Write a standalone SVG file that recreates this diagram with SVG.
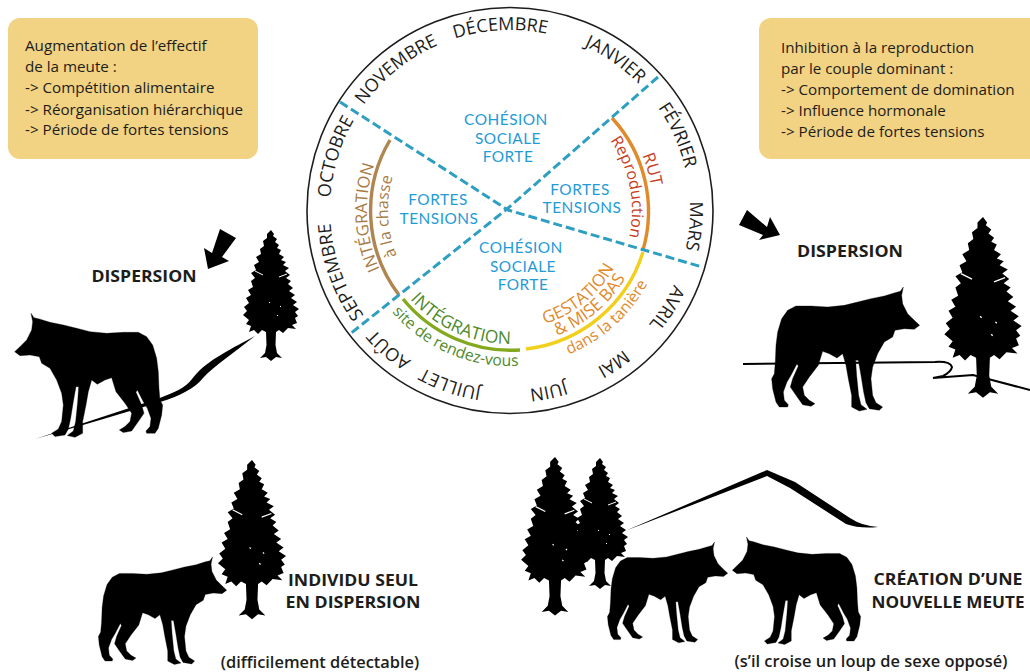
<svg xmlns="http://www.w3.org/2000/svg" width="1030" height="672" viewBox="0 0 1030 672">
<style>
text{font-family:"Open Sans","Noto Sans","Liberation Sans",sans-serif}
.box{fill:#f2d283}
.bt{font-size:15.2px;fill:#1d1d1b}
.m{font-size:18px;fill:#1d1d1b;text-anchor:middle}
.b{font-family:Lato,"Open Sans",sans-serif;font-size:15.4px;letter-spacing:.5px;fill:#1f9bd7;text-anchor:middle}
.lab{font-size:16.8px;font-weight:700;fill:#1d1d1b;text-anchor:middle}
.par{font-size:16.4px;font-weight:600;fill:#1d1d1b;text-anchor:middle}
.dash{fill:none;stroke:#2e9fc1;stroke-width:3;stroke-dasharray:9 4}
.arc{fill:none;stroke-width:3.4}
.cv{text-anchor:middle}
.fleck{fill:none;stroke:#fff;stroke-width:1}
</style>
<defs>
<path id="cw180" d="M510,390 A180,180 0 1 1 510,30 A180,180 0 1 1 510,390"/>
<path id="cw143" d="M510,353 A143,143 0 1 1 510,67 A143,143 0 1 1 510,353"/>
<path id="cw122" d="M510,332 A122,122 0 1 1 510,88 A122,122 0 1 1 510,332"/>
<path id="ccw119" d="M510,91 A119,119 0 1 0 510,329 A119,119 0 1 0 510,91"/>
<path id="ccw134" d="M510,76 A134,134 0 1 0 510,344 A134,134 0 1 0 510,76"/>
<path id="ccw156" d="M510,54 A156,156 0 1 0 510,366 A156,156 0 1 0 510,54"/>
<path id="wolf" stroke="#000" stroke-width="1" stroke-linejoin="round" d="M93,340 L102,353 L118,357 L150,367 L190,375 L230,385 L270,395 L320,400 L370,397 L415,397 L440,410 L458,435 L470,475 L475,515 L477,565 L480,600 L488,615 L485,645 L475,685 L465,700 L440,700 L438,693 L450,680 L453,655 L442,625 L430,605 L412,570 L408,577 L425,615 L432,640 L415,665 L395,693 L370,698 L358,690 L375,680 L390,665 L395,640 L375,610 L348,575 L335,533 L315,540 L292,553 L275,540 L265,575 L258,615 L248,665 L248,700 L225,712 L202,707 L220,693 L227,665 L233,605 L236,560 L228,560 L220,605 L212,655 L205,687 L195,705 L165,710 L155,700 L175,687 L185,665 L190,615 L185,580 L170,540 L150,505 L125,490 L118,470 L90,465 L60,467 L44,455 L60,440 L80,420 L95,390 L98,365 Z"/>
<g id="tree">
<path d="M0,0 L3,4 L2,6 L6,9 L4,12 L8,15 L6,18 L10,20 L8,24 L13,27 L10,30 L15,32 L12,35 L18,38 L14,41 L19,45 L15,48 L20,51 L17,54 L22,58 L18,61 L24,65 L20,68 L26,72 L22,75 L28,79 L24,82 L27,86 L24,88 L26,93 L21,95 L25,99 L17,98 L12,103 L8,100 L5,102 L4.5,115 L6,123 L11,128 L5,127 L0,131 L-5,127 L-11,128 L-6,123 L-4.5,115 L-5,102 L-9,100 L-13,104 L-17,100 L-22,102 L-20,96 L-25,94 L-22,90 L-28,85 L-24,81 L-27,77 L-22,73 L-25,68 L-20,65 L-23,60 L-18,57 L-20,51 L-16,48 L-20,43 L-15,40 L-17,35 L-12,32 L-15,27 L-10,24 L-11,19 L-7,16 L-8,11 L-4,8 L-4,4 Z"/>
<path class="fleck" d="M-16,41 L-8,45 M8,47 L16,44 M9,76 L10,77 M-2,72 L-1,73 M6,85 L7,86"/>
</g>
</defs>

<g id="box-left"><rect class="box" x="8" y="18" width="250" height="141" rx="12"/>
<text class="bt" x="25" y="51">Augmentation de l’effectif</text>
<text class="bt" x="25" y="72">de la meute :</text>
<text class="bt" x="25" y="93">-&gt; Compétition alimentaire</text>
<text class="bt" x="25" y="115">-&gt; Réorganisation hiérarchique</text>
<text class="bt" x="25" y="135">-&gt; Période de fortes tensions</text></g>
<g id="box-right"><rect class="box" x="759" y="18" width="290" height="141" rx="12"/>
<text class="bt" x="781" y="53">Inhibition à la reproduction</text>
<text class="bt" x="781" y="74">par le couple dominant :</text>
<text class="bt" x="781" y="95">-&gt; Comportement de domination</text>
<text class="bt" x="781" y="116">-&gt; Influence hormonale</text>
<text class="bt" x="781" y="137">-&gt; Période de fortes tensions</text></g>

<g id="wheel">
<circle cx="510" cy="210.5" r="203" fill="#fff" stroke="#1d1d1b" stroke-width="1.6"/>
<path class="arc" stroke="#e08a2c" d="M612,118 A138,138 0 0 1 643,250"/>
<path class="arc" stroke="#f2cf1a" d="M643,252 A139,139 0 0 1 526,349"/>
<path class="arc" stroke="#83a91f" stroke-width="4" d="M403,299 A139,139 0 0 0 520,350"/>
<path class="arc" stroke="#b0854f" d="M399,295 A139,139 0 0 1 390,140"/>
<path class="dash" d="M340,102 L508,210 L702,267"/>
<path class="dash" d="M658,77 L507,209 L350,334"/>
<g>
<text class="m" transform="rotate(-3 510 210)"><textPath href="#cw180" startOffset="50%">DÉCEMBRE</textPath></text>
<text class="m" transform="rotate(-39 510 210)"><textPath href="#cw180" startOffset="50%">NOVEMBRE</textPath></text>
<text class="m" transform="rotate(-73 510 210)"><textPath href="#cw180" startOffset="50%">OCTOBRE</textPath></text>
<text class="m" transform="rotate(-110 510 210)"><textPath href="#cw180" startOffset="50%">SEPTEMBRE</textPath></text>
<text class="m" transform="rotate(-139 510 210)"><textPath href="#cw180" startOffset="50%">AOÛT</textPath></text>
<text class="m" transform="rotate(-161 510 210)"><textPath href="#cw180" startOffset="50%">JUILLET</textPath></text>
<text class="m" transform="rotate(168 510 210)"><textPath href="#cw180" startOffset="50%">JUIN</textPath></text>
<text class="m" transform="rotate(146 510 210)"><textPath href="#cw180" startOffset="50%">MAI</textPath></text>
<text class="m" transform="rotate(122 510 210)"><textPath href="#cw180" startOffset="50%">AVRIL</textPath></text>
<text class="m" transform="rotate(95 510 210)"><textPath href="#cw180" startOffset="50%">MARS</textPath></text>
<text class="m" transform="rotate(66 510 210)"><textPath href="#cw180" startOffset="50%">FÉVRIER</textPath></text>
<text class="m" transform="rotate(35 510 210)"><textPath href="#cw180" startOffset="50%">JANVIER</textPath></text>
</g>
<text class="b" x="506" y="125">COHÉSION</text><text class="b" x="508" y="144">SOCIALE</text><text class="b" x="508" y="162">FORTE</text>
<text class="b" x="438" y="205">FORTES</text><text class="b" x="439" y="224">TENSIONS</text>
<text class="b" x="580" y="195">FORTES</text><text class="b" x="582" y="213">TENSIONS</text>
<text class="b" x="521" y="253">COHÉSION</text><text class="b" x="523" y="272">SOCIALE</text><text class="b" x="523" y="290">FORTE</text>
<text class="cv" font-size="16.5" fill="#a87b45" transform="rotate(-93 510 210)"><textPath href="#cw143" startOffset="50%">INTÉGRATION</textPath></text>
<text class="cv" font-size="16" fill="#a87b45" transform="rotate(-93 510 210)"><textPath href="#cw122" startOffset="50%">à la chasse</textPath></text>
<text class="cv" font-size="17" fill="#c8401f" transform="rotate(74 510 210)"><textPath href="#cw143" startOffset="50%">RUT</textPath></text>
<text class="cv" font-size="16" fill="#c8401f" transform="rotate(79 510 210)"><textPath href="#cw122" startOffset="50%">Reproduction</textPath></text>
<text class="cv" font-size="17.5" fill="#4f8a2c" transform="rotate(24 510 210)"><textPath href="#ccw134" startOffset="50%">INTÉGRATION</textPath></text>
<text class="cv" font-size="15.7" fill="#4f8a2c" transform="rotate(23 510 210)"><textPath href="#ccw156" startOffset="50%">site de rendez-vous</textPath></text>
<text class="cv" font-size="17" fill="#e2892b" transform="rotate(-39 510 210)"><textPath href="#ccw119" startOffset="50%">GESTATION</textPath></text>
<text class="cv" font-size="17" fill="#e2892b" transform="rotate(-40 510 210)"><textPath href="#ccw134" startOffset="50%">&amp; MISE BAS</textPath></text>
<text class="cv" font-size="15.7" fill="#e2892b" transform="rotate(-42 510 210)"><textPath href="#ccw156" startOffset="50%">dans la tanière</textPath></text>
</g>

<g id="scene-left">
<path d="M35,439 L160,398 C175,392 185,388 192,379 C205,362 225,352 255,336 C235,352 215,365 203,378 C195,388 180,396 160,402 L100,420 Z"/>
<use href="#wolf" transform="scale(.3333) translate(0,600)"/>
<use href="#tree" transform="translate(271,230)"/>
<polygon points="220,229 236,238 222,257 229,261 208,269 204,248 212,253"/>
<text class="lab" x="144" y="282" textLength="105" lengthAdjust="spacingAndGlyphs">DISPERSION</text>
</g>

<g id="scene-right">
<path d="M743,364 L935,362 Q950,361 952,367 Q951,372 943,376 L933,378 L973,375 L1030,390" fill="none" stroke="#000" stroke-width="2"/>
<use href="#wolf" transform="translate(934.3,173.7) scale(-.3333,.3333)"/>
<use href="#tree" transform="translate(983,217) scale(1.38)"/>
<polygon points="747,210 739,225 763,235 759,240 780,235 770,217 767,227"/>
<text class="lab" x="850" y="257" textLength="106" lengthAdjust="spacingAndGlyphs">DISPERSION</text>
</g>

<g id="scene-lone">
<use href="#wolf" transform="translate(239.4,458.7) scale(-.289,.289)"/>
<use href="#tree" transform="translate(252,460) scale(1.215)"/>
<text class="lab" x="353" y="586" textLength="130" lengthAdjust="spacingAndGlyphs">INDIVIDU SEUL</text>
<text class="lab" x="353" y="608" textLength="135" lengthAdjust="spacingAndGlyphs">EN DISPERSION</text>
<text class="par" x="320" y="668">(difficilement détectable)</text>
</g>

<g id="scene-pack">
<path d="M625,531 L767,470 L795,482 L850,518 Q862,526 878,527 Q860,529 846,524 L790,488 L767,476 Z"/>
<use href="#tree" transform="translate(600,458)"/>
<use href="#tree" transform="translate(555,457) scale(1.21)"/>
<use href="#wolf" transform="translate(739.7,449.9) scale(-.271,.271)"/>
<use href="#wolf" transform="translate(719.6,438.7) scale(.289)"/>
<text class="lab" x="948" y="585" textLength="149" lengthAdjust="spacingAndGlyphs">CRÉATION D’UNE</text>
<text class="lab" x="948" y="608" textLength="153" lengthAdjust="spacingAndGlyphs">NOUVELLE MEUTE</text>
<text class="par" x="871" y="667">(s’il croise un loup de sexe opposé)</text>
</g>
</svg>
